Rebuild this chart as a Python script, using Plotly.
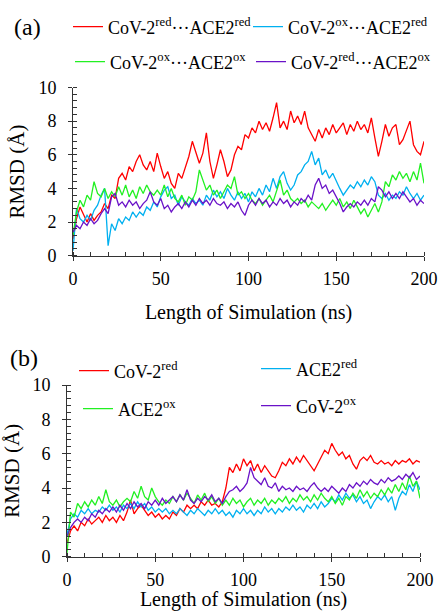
import plotly.graph_objects as go

# ---------------- data ----------------
time_ns = list(range(0, 201, 2))

# panel (a)
a_red_red = [1.0, 2.2, 2.9, 2.4, 2.0, 2.5, 2.1, 2.4, 2.6, 3.1, 2.8, 3.6, 3.4, 4.6, 4.9, 4.5, 5.3, 5.0, 5.6, 6.0,
             5.4, 5.1, 5.6, 5.0, 6.1, 5.3, 4.6, 5.0, 4.3, 4.0, 4.9, 4.6, 5.2, 5.9, 6.8, 6.2, 5.5, 6.1, 7.3, 5.6,
             4.6, 5.4, 6.3, 5.6, 4.7, 5.1, 6.0, 6.5, 6.3, 7.2, 7.0, 7.6, 7.3, 8.0, 7.5, 7.9, 7.4, 8.2, 9.1, 7.6,
             8.0, 7.5, 8.6, 7.9, 8.3, 7.8, 8.6, 7.6, 7.2, 6.8, 7.5, 7.0, 7.6, 7.2, 7.8, 7.3, 7.6, 7.9, 7.2, 7.8,
             7.4, 8.0, 7.5, 7.8, 7.3, 8.2, 7.0, 5.9, 6.8, 7.8, 7.1, 7.6, 7.8, 6.6, 6.9, 7.4, 8.0, 6.6, 6.2, 6.0,
             6.8]
a_ox_red = [0.3, 2.8, 2.2, 2.0, 2.4, 2.1, 2.7, 3.0, 3.6, 4.0, 0.6, 1.9, 1.5, 2.2, 1.9, 2.3, 2.1, 2.6, 2.3, 2.6,
            2.4, 2.9, 2.7, 3.2, 2.9, 3.5, 3.9, 4.1, 3.4, 3.6, 3.0, 3.5, 3.2, 3.0, 3.4, 3.1, 3.3, 3.0, 3.6, 3.3,
            3.9, 3.5, 3.8, 3.4, 4.0, 3.6, 3.3, 3.8, 3.4, 3.7, 3.2, 3.8, 3.5, 4.0, 3.6, 4.2, 3.8, 4.6, 4.0, 4.7,
            5.0, 4.3, 3.9, 4.2, 4.8, 5.0, 5.4, 5.6, 6.2, 5.4, 5.8, 4.8, 5.1, 4.6, 4.9, 4.4, 4.0, 3.6, 3.9, 4.2,
            4.0, 4.4, 4.1, 4.5, 4.2, 4.7, 4.4, 3.6, 3.4, 3.7, 3.3, 3.6, 3.4, 3.8, 3.6, 4.1, 3.7, 3.4, 3.7, 3.3,
            3.6]
a_ox_ox = [1.2, 2.6, 3.3, 2.9, 3.6, 3.3, 4.4, 3.7, 3.5, 4.0, 3.4, 3.8, 3.5, 4.1, 3.6, 4.2, 3.5, 3.9, 3.4, 4.1,
           3.7, 4.2, 3.8, 3.6, 3.9, 3.6, 4.2, 3.5, 4.0, 3.4, 3.2, 3.6, 3.0, 3.5, 3.3, 3.8, 5.1, 4.5, 3.9, 4.2,
           3.6, 3.9, 3.4, 3.8, 4.2, 4.0, 4.7, 3.6, 3.8, 3.4, 3.7, 3.3, 3.1, 3.4, 3.0, 3.3, 3.6, 3.2, 3.8, 4.5,
           3.6, 3.9, 3.4, 3.2, 3.4, 3.1, 3.3, 2.9, 3.2, 3.0, 2.8, 3.1, 2.7, 3.0, 3.3, 3.0, 3.4, 2.9, 3.2, 2.8,
           3.3, 2.9, 2.5, 2.8, 2.3, 2.7, 3.1, 2.6, 3.2, 4.4, 4.1, 4.8, 4.5, 5.0, 4.6, 4.9, 4.4, 5.0, 4.5, 5.5,
           4.3]
a_red_ox = [1.4, 1.8, 1.6, 2.0, 1.8, 2.2, 1.9, 2.1, 2.5, 2.8, 2.5, 3.5, 3.7, 3.0, 3.2, 2.9, 3.3, 3.0, 3.2, 2.8,
            3.1, 3.3, 3.8, 3.2, 3.0, 3.4, 2.8, 3.0, 2.6, 2.9, 3.1, 2.8, 3.2, 2.9, 3.3, 3.0, 3.4, 3.1, 3.3, 3.0,
            3.4, 3.1, 3.0, 3.2, 2.8, 3.1, 2.9, 3.2, 2.7, 2.4, 3.0, 3.3, 3.0, 3.4, 3.1, 3.3, 2.9, 3.2, 3.0, 3.4,
            3.1, 3.3, 2.9, 3.2, 3.0, 3.4, 3.2, 3.6, 3.3, 4.2, 4.6, 4.0, 4.2, 3.7, 3.9, 3.5, 3.1, 2.6, 2.9, 3.1,
            2.9, 3.2, 3.0, 3.3, 3.0, 3.4, 3.2, 4.1, 3.9, 3.5, 3.8, 3.4, 3.7, 3.4, 3.8, 3.5, 3.2, 3.4, 3.0, 3.3,
            3.1]

# panel (b)
b_cov_red = [0.8, 1.5, 1.8, 1.5, 2.0, 1.8, 2.2, 1.9, 2.1, 2.3, 2.0, 2.4, 2.1, 2.3, 2.0, 2.4, 2.1, 2.6, 3.3, 2.5,
             2.8, 3.0, 2.7, 2.4, 2.6, 2.3, 2.5, 2.2, 2.4, 2.2, 2.6, 2.4, 2.8, 2.6, 3.0, 2.8, 3.0, 2.8, 3.2, 3.0,
             3.3, 3.0, 3.1, 2.9, 3.2, 4.0, 5.2, 4.9, 5.4, 5.0, 5.7, 5.3, 5.6, 5.0, 5.4, 4.9, 5.3, 5.0, 4.7, 4.6,
             5.0, 5.5, 5.3, 5.7, 5.4, 5.8, 5.5, 5.9, 5.6, 5.3, 5.0, 5.4, 5.8, 6.2, 6.0, 6.6, 6.2, 5.9, 6.1, 5.7,
             5.9, 5.4, 5.1, 5.6, 5.8, 5.6, 5.9, 5.5, 5.4, 5.6, 5.4, 5.5, 5.3, 5.6, 5.4, 5.6, 5.5, 5.7, 5.4, 5.6,
             5.5]
b_ace_red = [1.3, 2.2, 2.5, 2.3, 2.7, 2.5, 2.8, 2.5, 2.7, 2.6, 2.9, 2.7, 3.0, 2.7, 2.9, 2.6, 3.0, 2.8, 3.1, 2.8,
             3.2, 2.9, 3.1, 2.7, 2.9, 2.6, 2.8, 2.6, 2.8, 2.5, 2.7, 2.5, 2.8, 2.6, 2.4, 2.7, 2.5, 2.8, 2.6, 2.4,
             2.7, 2.5, 2.8, 2.5, 2.7, 2.4, 2.6, 2.3, 2.7, 2.5, 2.8, 2.5, 2.7, 2.4, 2.7, 2.5, 2.9, 2.6, 2.8, 2.5,
             2.8, 2.6, 2.9, 2.7, 3.0, 2.7, 2.9, 2.6, 3.0, 2.8, 3.1, 2.8, 3.2, 2.9, 3.1, 3.4, 3.2, 3.6, 3.3, 3.7,
             3.4, 3.6, 3.2, 3.5, 3.1, 3.3, 2.8, 3.2, 3.5, 3.3, 3.6, 3.2, 3.5, 2.7, 3.4, 3.8, 3.6, 4.2, 3.8, 4.4,
             3.9]
b_ace_ox = [0.2, 2.6, 2.3, 3.1, 2.8, 3.2, 2.9, 3.3, 3.0, 3.5, 3.1, 3.9, 3.2, 3.0, 3.3, 2.9, 3.2, 3.4, 3.2, 3.8,
            3.4, 4.1, 3.5, 3.3, 4.0, 3.5, 3.2, 3.0, 3.3, 3.1, 3.5, 3.2, 3.6, 3.3, 3.7, 3.4, 3.1, 3.6, 3.3, 3.7,
            3.2, 3.5, 3.1, 3.4, 3.0, 3.3, 3.0, 3.4, 3.1, 3.3, 2.9, 3.2, 3.4, 3.0, 3.3, 3.1, 3.4, 3.0, 3.3, 3.1,
            3.4, 3.2, 3.5, 3.1, 3.4, 3.2, 3.6, 3.3, 3.5, 3.2, 3.6, 3.3, 3.7, 3.4, 3.2, 3.5, 3.1, 3.4, 3.0, 3.5,
            3.3, 3.7, 3.4, 3.9, 3.5, 3.8, 3.4, 3.7, 3.5, 3.9, 3.6, 4.0, 3.7, 4.2, 3.8, 4.3, 3.9, 4.7, 4.1, 4.4,
            3.4]
b_cov_ox = [1.2, 1.7, 2.0, 2.2, 2.0, 2.3, 2.1, 2.5, 2.3, 2.7, 2.5, 2.8, 2.6, 2.9, 2.6, 3.0, 2.7, 3.1, 2.8, 3.2,
            2.9, 3.1, 2.8, 3.2, 3.0, 3.3, 3.0, 3.4, 3.1, 3.3, 3.5, 3.2, 3.6, 3.3, 3.9, 3.3, 3.1, 3.4, 3.2, 3.5,
            3.3, 3.6, 3.2, 3.4, 3.1, 3.5, 3.8, 3.9, 4.1, 3.8, 4.0, 4.3, 5.2, 4.6, 4.4, 4.2, 4.6, 4.1, 4.0, 4.3,
            3.8, 4.1, 3.9, 4.0, 3.8, 4.1, 3.9, 4.0, 3.8, 4.1, 4.3, 4.0, 3.8, 4.0, 3.8, 4.1, 3.9, 3.7, 4.0, 3.8,
            4.2, 4.0, 4.3, 4.1, 4.4, 4.2, 4.5, 4.3, 4.2, 4.5, 4.3, 4.6, 4.4, 4.5, 4.7, 4.5, 4.8, 4.6, 4.9, 4.5,
            4.7]

x_ticks = [0, 50, 100, 150, 200]
y_ticks = [0, 2, 4, 6, 8, 10]

names_a = ["CoV-2<sup>red</sup>\u00b7\u00b7\u00b7ACE2<sup>red</sup>",
           "CoV-2<sup>ox</sup>\u00b7\u00b7\u00b7ACE2<sup>red</sup>",
           "CoV-2<sup>ox</sup>\u00b7\u00b7\u00b7ACE2<sup>ox</sup>",
           "CoV-2<sup>red</sup>\u00b7\u00b7\u00b7ACE2<sup>ox</sup>"]
names_b = ["CoV-2<sup>red</sup>", "ACE2<sup>red</sup>", "ACE2<sup>ox</sup>", "CoV-2<sup>ox</sup>"]

RED, BLUE, GREEN, PURPLE = "#FF0000", "#00B0F0", "#22F022", "#6A12C8"
FONT = "Liberation Serif, Times New Roman, serif"

W, H = 440, 611


def px_x(px):
    return px / W


def px_y(py):
    return 1 - py / H


fig = go.Figure()

series_a = [a_red_red, a_ox_red, a_ox_ox, a_red_ox]
series_b = [b_cov_red, b_ace_red, b_ace_ox, b_cov_ox]
cols = [RED, BLUE, GREEN, PURPLE]
leg_ids = ["legend", "legend2", "legend3", "legend4"]
leg_ids_b = ["legend5", "legend6", "legend7", "legend8"]

for s, n, c, lg in zip(series_a, names_a, cols, leg_ids):
    fig.add_trace(go.Scatter(x=time_ns, y=s, name=n, mode="lines",
                             line=dict(color=c, width=1.3), xaxis="x", yaxis="y", legend=lg))
for s, n, c, lg in zip(series_b, names_b, cols, leg_ids_b):
    fig.add_trace(go.Scatter(x=time_ns, y=s, name=n, mode="lines",
                             line=dict(color=c, width=1.3), xaxis="x2", yaxis="y2", legend=lg))


def xax(domain, anchor, standoff):
    return dict(domain=domain, anchor=anchor, range=[0, 200], tickvals=x_ticks,
                ticks="outside", ticklen=4, tickcolor="#333", tickwidth=1,
                minor=dict(dtick=10, ticks="inside", ticklen=4, tickcolor="#333", tickwidth=1),
                showline=True, linecolor="#333", linewidth=1, showgrid=False, zeroline=False,
                tickfont=dict(family=FONT, size=18, color="black"), ticklabelstandoff=3,
                ticklabeloverflow="allow", automargin=False,
                title=dict(text="Length of Simulation (ns)", font=dict(family=FONT, size=20, color="black"),
                           standoff=standoff), fixedrange=True)


def yax(domain, anchor):
    return dict(domain=domain, anchor=anchor, range=[0, 10], tickvals=y_ticks,
                ticks="outside", ticklen=4, tickcolor="#333", tickwidth=1,
                minor=dict(dtick=0.4, ticks="inside", ticklen=4, tickcolor="#333", tickwidth=1),
                showline=True, linecolor="#333", linewidth=1, showgrid=False, zeroline=False,
                tickfont=dict(family=FONT, size=18, color="black"), ticklabelstandoff=8,
                ticklabeloverflow="allow", automargin=False,
                title=dict(text="RMSD (Å)", font=dict(family=FONT, size=21, color="black"), standoff=8),
                fixedrange=True)


layout = dict(
    width=W, height=H, margin=dict(l=0, r=0, t=0, b=0, autoexpand=False),
    paper_bgcolor="white", plot_bgcolor="white",
    font=dict(family=FONT, color="black"),
    xaxis=xax([px_x(73), px_x(424)], "y", 16),
    yaxis=yax([px_y(255.7), px_y(87.5)], "x"),
    xaxis2=xax([px_x(67), px_x(420)], "y2", 6),
    yaxis2=yax([px_y(556.7), px_y(385)], "x2"),
    showlegend=True,
    hovermode=False,
)

# legend anchor positions in page pixels (text start x, centre y)
leg_pos = {
    "legend": (112, 27), "legend2": (292, 27), "legend3": (114, 62), "legend4": (295, 62),
    "legend5": (118, 371), "legend6": (300, 369), "legend7": (122, 409), "legend8": (300, 406),
}
for lg, (px, py) in leg_pos.items():
    layout[lg] = dict(x=px_x(px - 44), y=px_y(py), xanchor="left", yanchor="middle",
                      bgcolor="rgba(0,0,0,0)", borderwidth=0,
                      font=dict(family=FONT, size=18, color="black"), orientation="h",
                      tracegroupgap=0)

fig.update_layout(**layout)

fig.add_annotation(text="(a)", x=px_x(12), y=px_y(27), xref="paper", yref="paper",
                   xanchor="left", yanchor="middle", showarrow=False,
                   font=dict(family=FONT, size=24, color="black"))
fig.add_annotation(text="(b)", x=px_x(8), y=px_y(358), xref="paper", yref="paper",
                   xanchor="left", yanchor="middle", showarrow=False,
                   font=dict(family=FONT, size=24, color="black"))

# remove the browser's default 8px page margin so the 440x611 figure fills the window exactly
fig.write_html("out.html",
               config={"displayModeBar": False, "staticPlot": False},
               post_script="document.body.style.margin='0';document.body.style.overflow='hidden';")
